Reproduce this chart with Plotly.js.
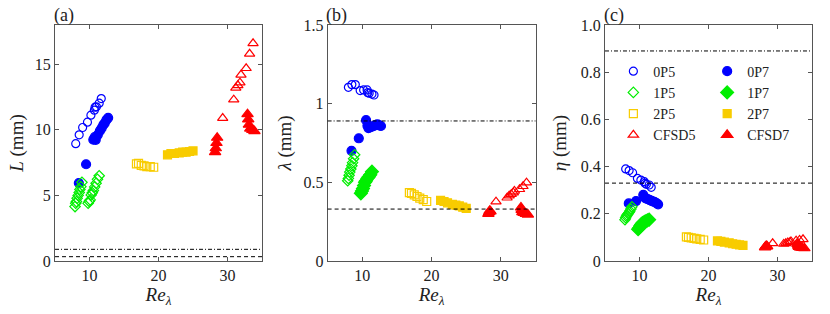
<!DOCTYPE html>
<html><head><meta charset="utf-8">
<script src="https://cdn.plot.ly/plotly-3.0.1.min.js"></script>
<style>html,body{margin:0;padding:0;background:#fff}#chart{width:830px;height:314px}</style>
</head><body><div id="chart"></div>
<script>
// ---- data (Re_lambda, L [mm], lambda [mm], eta [mm]) ----
const re0P5  = [8.0, 8.5, 9.0, 9.7, 10.2, 10.7, 10.8, 11.0, 11.4, 11.7];
const L0P5   = [8.95, 9.62, 10.18, 10.59, 11.12, 11.5, 11.73, 11.76, 12.04, 12.39];
const lam0P5 = [1.104, 1.121, 1.121, 1.083, 1.087, 1.087, 1.070, 1.066, 1.061, 1.055];
const eta0P5 = [0.390, 0.383, 0.374, 0.350, 0.343, 0.336, 0.329, 0.325, 0.322, 0.312];

const re0P7  = [8.45, 9.5, 10.55, 10.75, 10.9, 11.2, 11.5, 11.75, 12.0, 12.2, 12.45, 12.7];
const L0P7   = [5.95, 7.38, 9.25, 9.44, 9.24, 9.62, 9.92, 10.13, 10.38, 10.51, 10.76, 10.92];
const lam0P7 = [0.700, 0.780, 0.895, 0.860, 0.845, 0.850, 0.855, 0.860, 0.865, 0.868, 0.862, 0.858];
const eta0P7 = [0.244, 0.254, 0.280, 0.270, 0.265, 0.262, 0.258, 0.255, 0.252, 0.250, 0.245, 0.240];

const re1P5  = [7.9, 8.0, 8.1, 8.2, 8.35, 8.5, 8.6, 8.75, 8.9];
const L1P5   = [4.15, 4.4, 4.53, 4.78, 5.0, 5.22, 5.45, 5.67, 6.0];
const lam1P5 = [0.510, 0.525, 0.545, 0.565, 0.585, 0.605, 0.625, 0.650, 0.675];
const eta1P5 = [0.175, 0.183, 0.190, 0.195, 0.200, 0.206, 0.212, 0.220, 0.230];

const re1P7  = [9.8, 9.95, 10.1, 10.25, 10.4, 10.55, 10.75, 10.95, 11.15, 11.4];
const L1P7   = [4.4, 4.55, 4.66, 5.04, 5.2, 5.37, 5.65, 5.93, 6.23, 6.5];
const lam1P7 = [0.430, 0.445, 0.460, 0.480, 0.500, 0.510, 0.525, 0.535, 0.548, 0.568];
const eta1P7 = [0.135, 0.140, 0.148, 0.155, 0.160, 0.163, 0.166, 0.169, 0.172, 0.175];

const re2P5  = [16.8, 17.1, 17.5, 17.9, 18.3, 18.8, 19.3];
const L2P5   = [7.4, 7.45, 7.3, 7.25, 7.2, 7.2, 7.15];
const lam2P5 = [0.435, 0.430, 0.420, 0.410, 0.400, 0.390, 0.378];
const eta2P5 = [0.102, 0.100, 0.098, 0.096, 0.094, 0.092, 0.089];

const re2P7  = [21.3, 21.8, 22.3, 23.0, 23.5, 24.0, 24.5, 25.0];
const L2P7   = [8.1, 8.2, 8.2, 8.25, 8.3, 8.3, 8.35, 8.4];
const lam2P7 = [0.385, 0.378, 0.370, 0.360, 0.355, 0.350, 0.342, 0.335];
const eta2P7 = [0.085, 0.083, 0.080, 0.077, 0.073, 0.071, 0.068, 0.066];

const reCF5  = [29.3, 30.9, 31.2, 31.5, 31.8, 31.95, 32.7, 33.2, 33.7];
const LCF5   = [10.9, 12.3, 13.2, 13.4, 13.6, 14.2, 14.7, 15.8, 16.6];
const lamCF5 = [0.377, 0.402, 0.415, 0.425, 0.434, 0.445, 0.456, 0.475, 0.498];
const etaCF5 = [0.075, 0.072, 0.075, 0.078, 0.080, 0.083, 0.086, 0.089, 0.092];

const reCF7  = [28.2, 28.3, 28.4, 28.5, 32.9, 33.0, 33.1, 33.3, 33.6, 33.9];
const LCF7   = [8.3, 8.6, 9.0, 9.4, 11.2, 10.8, 10.4, 10.1, 10.0, 9.9];
const lamCF7 = [0.300, 0.310, 0.320, 0.315, 0.340, 0.325, 0.310, 0.305, 0.300, 0.295];
const etaCF7 = [0.058, 0.062, 0.064, 0.062, 0.072, 0.065, 0.060, 0.057, 0.055, 0.054];

const refDashDot = 0.89;   // mm
const refDash    = 0.33;   // mm

const seriesNames = ['0P5','0P7','1P5','1P7','2P5','2P7','CFSD5','CFSD7'];
const yTicksC = [0, 0.2, 0.4, 0.6, 0.8, 1.0];
const yTickTextC = ['0','0.2','0.4','0.6','0.8','1.0'];

// ---- styling ----
const FONT = 'Liberation Serif';
const BLUE = '#0000FF', GREEN = '#00EE00', YEL = '#F8CC00', RED = '#FF0000';
const series = [
  {name:seriesNames[0], re:re0P5, v:[L0P5,lam0P5,eta0P5], sym:'circle-open', col:BLUE, size:8, leg:'legend'},
  {name:seriesNames[1], re:re0P7, v:[L0P7,lam0P7,eta0P7], sym:'circle', col:BLUE, size:9, leg:'legend2'},
  {name:seriesNames[2], re:re1P5, v:[L1P5,lam1P5,eta1P5], sym:'diamond-open', col:GREEN, size:8, leg:'legend'},
  {name:seriesNames[3], re:re1P7, v:[L1P7,lam1P7,eta1P7], sym:'diamond', col:GREEN, size:10, leg:'legend2', symA:'diamond-open', sizeA:8},
  {name:seriesNames[4], re:re2P5, v:[L2P5,lam2P5,eta2P5], sym:'square-open', col:YEL, size:8, leg:'legend'},
  {name:seriesNames[5], re:re2P7, v:[L2P7,lam2P7,eta2P7], sym:'square', col:YEL, size:8, leg:'legend2'},
  {name:seriesNames[6], re:reCF5, v:[LCF5,lamCF5,etaCF5], sym:'triangle-up-open', col:RED, size:9, leg:'legend'},
  {name:seriesNames[7], re:reCF7, v:[LCF7,lamCF7,etaCF7], sym:'triangle-up', col:RED, size:10, leg:'legend2'},
];

const traces = [];
const axSuffix = ['', '2', '3'];
for (let p = 0; p < 3; p++) {
  series.forEach(s => {
    const sym = (p === 0 && s.symA) ? s.symA : s.sym;
    const size = (p === 0 && s.sizeA) ? s.sizeA : s.size;
    traces.push({
      type:'scatter', mode:'markers', name:s.name,
      x:s.re, y:s.v[p],
      xaxis:'x'+axSuffix[p], yaxis:'y'+axSuffix[p],
      showlegend: p === 2, legend: s.leg,
      marker:{symbol:sym, color:s.col, size:size, line:{color:s.col, width:1.2}},
      hoverinfo:'x+y'
    });
  });
}

const AXC = '#555';
function xax(dom) {
  return {domain:dom, range:[5,35], tickvals:[10,20,30], ticks:'inside', ticklen:4,
    tickcolor:AXC, linecolor:AXC, linewidth:1, mirror:'ticks', showgrid:false, zeroline:false,
    tickfont:{family:FONT, size:16, color:'#222'},
    title:{text:'<i>Re<sub>λ</sub></i>', font:{family:FONT, size:19, color:'#222'}, standoff:4}};
}
function yax(anchor, range, title, extra) {
  return Object.assign({domain:[0.1688, 0.9204], anchor:anchor, range:range, ticks:'inside', ticklen:4,
    tickcolor:AXC, linecolor:AXC, linewidth:1, mirror:'ticks', showgrid:false, zeroline:false,
    tickfont:{family:FONT, size:16, color:'#222'},
    title:{text:title, font:{family:FONT, size:19, color:'#222'}, standoff:6}}, extra||{});
}

const shapes = [];
['', '2', '3'].forEach(sfx => {
  shapes.push({type:'line', xref:'x'+sfx+' domain', x0:0, x1:1, yref:'y'+sfx, y0:refDashDot, y1:refDashDot,
    line:{color:'#000', width:1, dash:'4px,2px,1px,2px'}});
  shapes.push({type:'line', xref:'x'+sfx+' domain', x0:0, x1:1, yref:'y'+sfx, y0:refDash, y1:refDash,
    line:{color:'#000', width:1, dash:'4px,3px'}});
});

const panelLabels = ['(a)','(b)','(c)'];
const annotations = panelLabels.map((t, i) => ({
  text:t, xref:'x'+axSuffix[i]+' domain', yref:'y'+axSuffix[i]+' domain', x:-0.015, y:1,
  xanchor:'left', yanchor:'bottom', showarrow:false, font:{family:FONT, size:18, color:'#222'}, yshift:-3
}));

const legendBase = {bgcolor:'rgba(0,0,0,0)', borderwidth:0, font:{family:FONT, size:14, color:'#222'},
  tracegroupgap:0, xanchor:'left', yanchor:'top', orientation:'v'};

const layout = {
  width:830, height:314, margin:{l:0, r:0, t:0, b:0},
  paper_bgcolor:'#fff', plot_bgcolor:'#fff',
  font:{family:FONT},
  xaxis: Object.assign(xax([0.0663, 0.3157]), {anchor:'y'}),
  xaxis2: Object.assign(xax([0.3947, 0.6452]), {anchor:'y2'}),
  xaxis3: Object.assign(xax([0.7289, 0.9783]), {anchor:'y3'}),
  yaxis: yax('x', [0,18], '<i>L</i> (mm)', {tickvals:[0,5,10,15]}),
  yaxis2: yax('x2', [0,1.5], '<i>λ</i> (mm)', {tickvals:[0,0.5,1,1.5]}),
  yaxis3: yax('x3', [0,1], '<i>η</i> (mm)', {tickvals:yTicksC, ticktext:yTickTextC, title:{text:'<i>η</i> (mm)', font:{family:FONT, size:19, color:'#222'}, standoff:9}}),
  legend: Object.assign({}, legendBase, {x:0.739, y:0.823}),
  legend2: Object.assign({}, legendBase, {x:0.852, y:0.823}),
  shapes:shapes, annotations:annotations, showlegend:true
};

Plotly.newPlot('chart', traces, layout, {staticPlot:true, displayModeBar:false});
</script></body></html>
